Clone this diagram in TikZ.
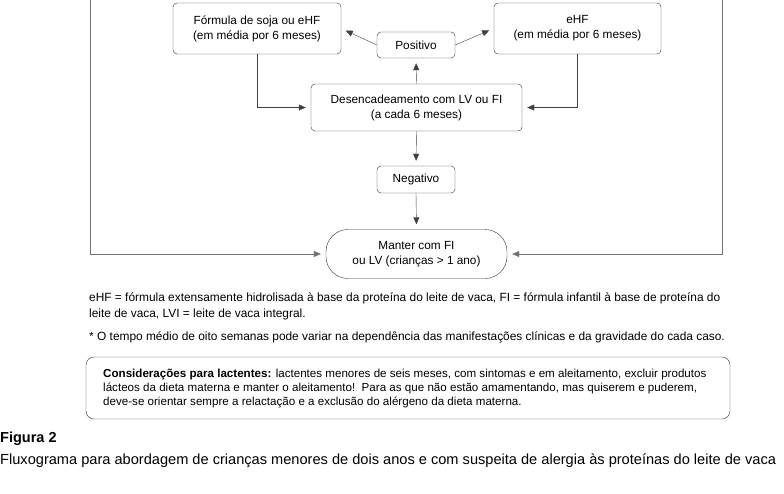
\documentclass[tikz,border=0pt]{standalone}
\usepackage{fontspec}
\setmainfont{Liberation Sans}
\usetikzlibrary{arrows.meta}
\tikzset{
  caixa/.style={draw=black!80, rounded corners=4pt, align=center, inner sep=0pt,
    font=\fontsize{11.8}{15}\selectfont},
  seta/.style={draw=black!75, -{Triangle[length=7pt,width=6pt]}, shorten >=5pt},
  linha/.style={draw=black!55, -{Triangle[length=7pt,width=6pt]}, shorten >=5pt},
  nota/.style={anchor=base west, inner sep=0pt, font=\fontsize{11.9}{14}\selectfont}
}

\begin{document}
\begin{tikzpicture}[x=1pt, y=-1pt]
	%%%%% START %%%%%
	\useasboundingbox (0, 0) rectangle (784, 493);
	
	\node[caixa, minimum width=168pt, minimum height=51pt] (soja) at (257, 28.5) {Fórmula de soja ou eHF\\(em média por 6 meses)};
	\node[caixa, minimum width=167pt, minimum height=51pt] (ehf) at (577.5, 28.5) {eHF\\(em média por 6 meses)};
	\node[caixa, minimum width=78pt, minimum height=26pt] (positivo) at (416, 45) {Positivo};
	\node[caixa, minimum width=211pt, minimum height=47pt] (desenc) at (416.5, 107.5) {Desencadeamento com LV ou FI\\(a cada 6 meses)};
	\node[caixa, minimum width=78pt, minimum height=27pt] (negativo) at (416, 179.5) {Negativo};
	\node[caixa, rounded corners=22pt, minimum width=181pt, minimum height=49pt] (manter) at (416.5, 254) {Manter com FI\\ou LV (crianças > 1 ano)};
	
	\coordinate (topoesq) at (90, 0);
	\coordinate (topodir) at (722, 0);
	
	\draw[seta] (positivo.west) -- (soja.east);
	\draw[seta] (positivo.east) -- (ehf.west);
	\draw[seta] (desenc.north) -- (positivo.south);
	\draw[seta] (soja.south) |- (desenc.west);
	\draw[seta] (ehf.south) |- (desenc.east);
	\draw[seta] (desenc.south) -- (negativo.north);
	\draw[seta] (negativo.south) -- (manter.north);
	\draw[linha] (topoesq) |- (manter.west);
	\draw[linha] (topodir) |- (manter.east);
	
	%%%%% NOTAS %%%%%
	\node[nota] (nota1) at (89, 301) {eHF = fórmula extensamente hidrolisada à base da proteína do leite de vaca, FI = fórmula infantil à base de proteína do};
	\node[nota] (nota2) at (89, 317) {leite de vaca, LVI = leite de vaca integral.};
	\node[nota] (nota3) at (89, 340) {* O tempo médio de oito semanas pode variar na dependência das manifestações clínicas e da gravidade do cada caso.};
	
	\draw[draw=black!80, rounded corners=8pt] (86, 357) rectangle (730, 419);
	\node[nota, font=\fontsize{11.6}{14}\selectfont] (cons1) at (103, 377) {\textbf{Considerações para lactentes:} lactentes menores de seis meses, com sintomas e em aleitamento, excluir produtos};
	\node[nota, font=\fontsize{11.6}{14}\selectfont] (cons2) at (103, 391) {lácteos da dieta materna e manter o aleitamento!\ \ Para as que não estão amamentando, mas quiserem e puderem,};
	\node[nota, font=\fontsize{11.6}{14}\selectfont] (cons3) at (103, 405) {deve-se orientar sempre a relactação e a exclusão do alérgeno da dieta materna.};
	
	\node[nota, font=\fontsize{14.5}{16}\bfseries] (figura) at (0, 442) {Figura 2};
	\node[nota, font=\fontsize{14.6}{17}\selectfont] (legenda) at (0, 464) {Fluxograma para abordagem de crianças menores de dois anos e com suspeita de alergia às proteínas do leite de vaca};
	%%%%% END %%%%%
\end{tikzpicture}
\end{document}
